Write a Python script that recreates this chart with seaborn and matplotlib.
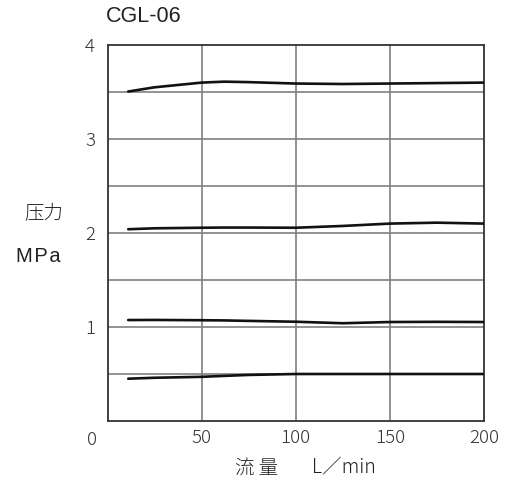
import numpy as np
import pandas as pd
import matplotlib
matplotlib.use("Agg")
import matplotlib.pyplot as plt
import seaborn as sns

# Data
flow = [11, 25, 50, 62, 75, 100, 125, 150, 175, 200]
p_35 = [3.505, 3.55, 3.60, 3.61, 3.605, 3.59, 3.585, 3.59, 3.595, 3.60]
p_20 = [2.04, 2.05, 2.056, 2.058, 2.058, 2.056, 2.075, 2.10, 2.11, 2.10]
p_10 = [1.074, 1.075, 1.072, 1.07, 1.065, 1.056, 1.04, 1.053, 1.055, 1.053]
p_05 = [0.45, 0.46, 0.47, 0.48, 0.49, 0.50, 0.50, 0.50, 0.50, 0.50]
series_names = ["3.5", "2.0", "1.0", "0.5"]

x_ticks = [50, 100, 150, 200]
x_tick_labels = ["50", "100", "150", "200"]
y_ticks = [1, 2, 3, 4]
y_tick_labels = ["1", "2", "3", "4"]

title = "CGL-06"
xlabel_jp = "流 量"
xlabel_unit = "L／min"
ylabel_top = "压力"
ylabel_bottom = "M\u200aP\u200aa"

rows = []
for name, vals in zip(series_names, [p_35, p_20, p_10, p_05]):
    for x, y in zip(flow, vals):
        rows.append({"flow": x, "pressure": y, "series": name})
df = pd.DataFrame(rows)

sns.set_theme(style="white")
plt.rcParams["font.family"] = ["Noto Sans CJK JP", "DejaVu Sans"]

fig = plt.figure(figsize=(5.05, 4.90), dpi=100)
ax = fig.add_axes([107.5 / 505, 1 - 421 / 490, (484 - 107.5) / 505, (421 - 45) / 490])

# grid
for gx in [50, 100, 150]:
    ax.axvline(gx, color="#808080", lw=1.2, zorder=1)
for gy in [0.5, 1, 1.5, 2, 2.5, 3, 3.5]:
    ax.axhline(gy, color="#808080", lw=1.2, zorder=1)

sns.lineplot(data=df, x="flow", y="pressure", hue="series",
             palette=["#111111"] * 4, lw=1.9, legend=False, ax=ax,
             sort=True, estimator=None, zorder=3)

tick_font = ["Noto Sans CJK JP", "DejaVu Sans"]
ax.set_xlim(0, 200)
ax.set_ylim(0, 4)
ax.set_xticks(x_ticks)
ax.set_xticklabels(x_tick_labels, family=tick_font, fontsize=13.5, fontweight="light")
ax.set_yticks(y_ticks)
ax.set_yticklabels(y_tick_labels, family=tick_font, fontsize=13.5, fontweight="light")
ax.tick_params(axis="both", length=0, colors="#333333")
ax.tick_params(axis="x", pad=6)
ax.tick_params(axis="y", pad=9)
ax.set_xlabel("")
ax.set_ylabel("")
for s in ax.spines.values():
    s.set_color("#333333")
    s.set_linewidth(1.3)
    s.set_visible(True)

latin = ["Liberation Sans", "DejaVu Sans"]
fig.text(92 / 505, 1 - 440 / 490, "0", ha="center", va="center",
         family=tick_font, fontweight="light", fontsize=13.5, color="#333333")
fig.text(144 / 505, 1 - 16 / 490, title, ha="center", va="center",
         family=latin, fontsize=15.5, color="#222222")
fig.text(44 / 505, 1 - 214 / 490, ylabel_top, ha="center", va="center",
         fontsize=14, fontweight="light", color="#222222")
fig.text(38 / 505, 1 - 256 / 490, ylabel_bottom, ha="center", va="center",
         family=latin, fontsize=14.5, color="#222222")
fig.text(257 / 505, 1 - 468 / 490, xlabel_jp, ha="center", va="center",
         fontsize=14, fontweight="light", color="#222222")
fig.text(344 / 505, 1 - 467 / 490, xlabel_unit, ha="center", va="center",
         fontsize=14, fontweight="light", color="#222222")

fig.savefig("out.png", dpi=100)
